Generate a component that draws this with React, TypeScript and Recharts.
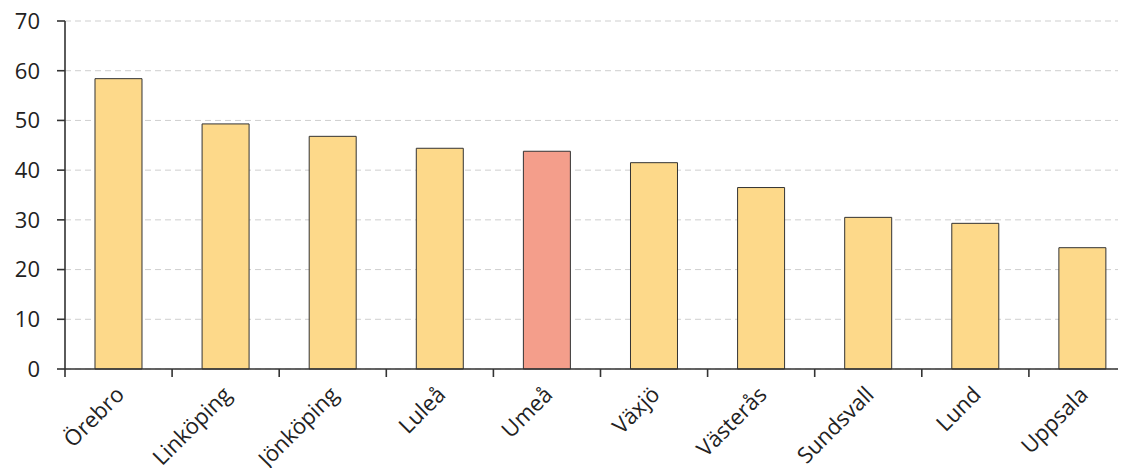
import React from 'react';
import { BarChart, Bar, XAxis, YAxis, CartesianGrid, Cell } from 'recharts';

const cities = ['Örebro', 'Linköping', 'Jönköping', 'Luleå', 'Umeå', 'Växjö', 'Västerås', 'Sundsvall', 'Lund', 'Uppsala'];
const values = [58.4, 49.3, 46.8, 44.4, 43.8, 41.5, 36.5, 30.5, 29.3, 24.4];
const highlighted = ['Umeå'];
const yTicks = [0, 10, 20, 30, 40, 50, 60, 70];

const data = cities.map((c, i) => ({ city: c, value: values[i] }));

const FONT = '"Open Sans", Lato, sans-serif';
const CHART_W = 1130;
const CHART_H = 460;
const Y_W = 57;
const M_RIGHT = 2;
const BAND = (CHART_W - Y_W - M_RIGHT) / cities.length;

const XTick = (props: any) => {
  const { x, y, payload } = props;
  const lx = x - BAND / 2;
  const ax = x + 7;
  const ay = y + 27;
  return (
    <g>
      <line x1={lx} y1={y} x2={lx} y2={y + 8} stroke="#333" strokeWidth={1.6} />
      <text
        x={ax}
        y={ay}
        textAnchor="end"
        transform={`rotate(-45 ${ax} ${ay})`}
        fontFamily={FONT}
        fontSize={22}
        fill="#222"
      >
        {payload.value}
      </text>
    </g>
  );
};

export default function App() {
  return (
    <div style={{ width: 1118, height: 460, overflow: 'hidden' }}>
      <BarChart
        width={CHART_W}
        height={CHART_H}
        data={data}
        margin={{ top: 13, right: M_RIGHT, bottom: 0, left: 0 }}
        barCategoryGap="28%"
      >
        <CartesianGrid vertical={false} stroke="#cfcfcf" strokeDasharray="6 4" />
        <XAxis
          dataKey="city"
          interval={0}
          height={99}
          tickLine={false}
          tickSize={0}
          tickMargin={0}
          axisLine={{ stroke: '#333', strokeWidth: 1.6 }}
          tick={<XTick />}
        />
        <YAxis
          width={Y_W}
          domain={[0, 70]}
          ticks={yTicks}
          tickSize={8}
          tickMargin={17}
          axisLine={{ stroke: '#333', strokeWidth: 1.6 }}
          tickLine={{ stroke: '#333', strokeWidth: 1.6 }}
          tick={{ fontFamily: FONT, fontSize: 22, fill: '#222' }}
        />
        <Bar dataKey="value" stroke="#333" strokeWidth={1} isAnimationActive={false}>
          {data.map((d) => (
            <Cell key={d.city} fill={highlighted.includes(d.city) ? '#F49E8B' : '#FDD98A'} />
          ))}
        </Bar>
      </BarChart>
    </div>
  );
}
